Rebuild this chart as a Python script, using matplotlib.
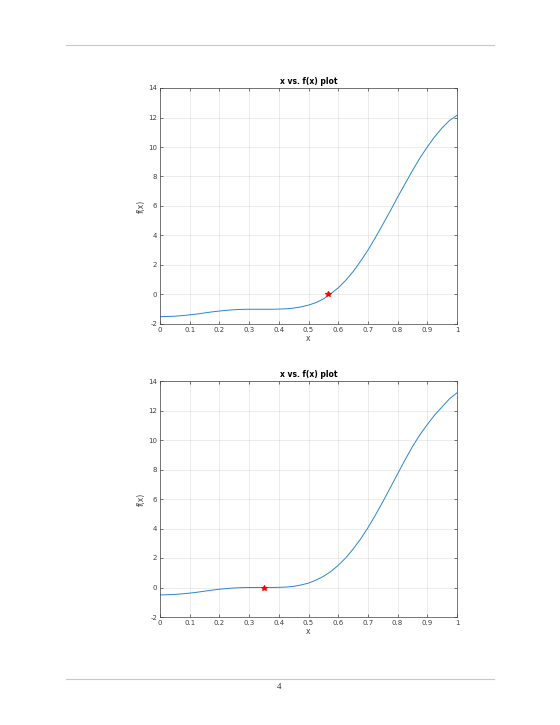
import numpy as np
import matplotlib.pyplot as plt

plt.rcParams['axes.unicode_minus'] = False

# valores (passo 0.025)
x = np.linspace(0, 1, 41)
f_top = [-1.50, -1.49, -1.47, -1.43, -1.38, -1.32, -1.25, -1.18, -1.12, -1.07,
         -1.03, -1.01, -1.00, -1.00, -1.00, -1.00, -0.99, -0.97, -0.92, -0.84,
         -0.72, -0.55, -0.30, 0.05, 0.45, 0.95, 1.55, 2.25, 3.00, 3.85,
         4.75, 5.65, 6.60, 7.50, 8.40, 9.25, 10.00, 10.70, 11.30, 11.80, 12.15]
f_bottom = [-0.50, -0.49, -0.47, -0.43, -0.38, -0.32, -0.25, -0.18, -0.12, -0.07,
            -0.03, -0.01, 0.00, 0.00, 0.00, 0.00, 0.01, 0.03, 0.08, 0.17,
            0.30, 0.50, 0.75, 1.08, 1.50, 2.00, 2.60, 3.28, 4.05, 4.90,
            5.80, 6.75, 7.70, 8.65, 9.55, 10.35, 11.05, 11.70, 12.25, 12.80, 13.20]
root_top = (0.567, 0.0)
root_bottom = (0.35, 0.0)
xticks = np.arange(0, 1.01, 0.1)
yticks = np.arange(-2, 14.1, 2)
xticklabels = ['0', '0.1', '0.2', '0.3', '0.4', '0.5', '0.6', '0.7', '0.8', '0.9', '1']

fig = plt.figure(figsize=(5.6, 7.25), dpi=100)
fig.patch.set_facecolor('white')

# linhas de cabeçalho e rodapé da página
fig.add_artist(plt.Line2D([66/560, 494/560], [1-45/725, 1-45/725], color='#c8c8c8', lw=0.8))
fig.add_artist(plt.Line2D([66/560, 494/560], [1-679/725, 1-679/725], color='#c8c8c8', lw=0.8))
fig.text(279/560, 1-687/725, '4', ha='center', va='center', fontsize=6.5,
         family='Liberation Serif', color='#333333')

def draw(ax, y, root):
    ax.plot(x, y, color='#2a86cc', lw=0.7)
    ax.plot(root[0], root[1], '*', color='red', ms=4, mew=0.8)
    ax.set_xlim(0, 1)
    ax.set_ylim(-2, 14)
    ax.set_xticks(xticks)
    ax.set_xticklabels(xticklabels)
    ax.set_yticks(yticks)
    ax.grid(True, color='#262626', alpha=0.12, lw=0.5)
    ax.tick_params(direction='in', length=2, width=0.5, labelsize=5,
                   colors='#404040', top=True, right=True, pad=2)
    for s in ax.spines.values():
        s.set_linewidth(0.5)
        s.set_color('#404040')
    ax.set_title('x vs. f(x) plot', fontsize=5.5, fontweight='bold', pad=3)
    ax.set_xlabel('x', fontsize=5.5, color='#404040', labelpad=1)
    ax.set_ylabel('f(x)', fontsize=5.5, color='#404040', labelpad=2)

ax1 = fig.add_axes([160/560, 1-324/725, 297/560, 236/725])
draw(ax1, f_top, root_top)
ax2 = fig.add_axes([160/560, 1-617/725, 297/560, 236/725])
draw(ax2, f_bottom, root_bottom)

fig.savefig('out.png', dpi=100)
